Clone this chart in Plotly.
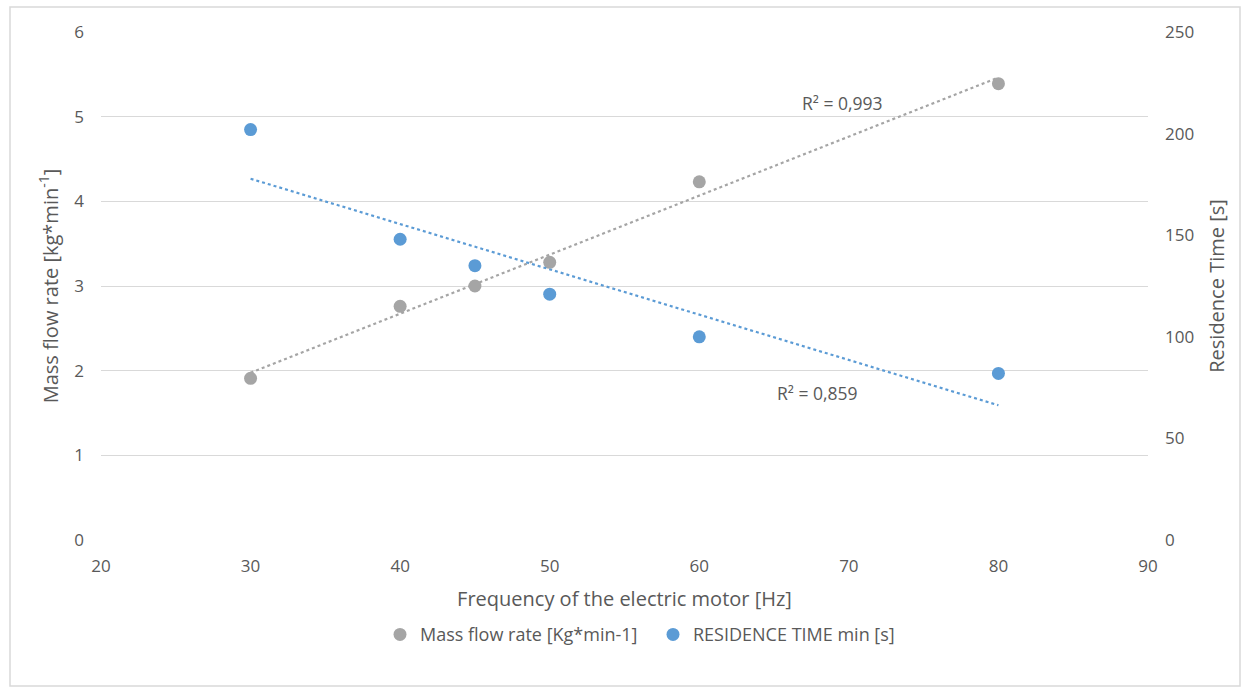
import numpy as np
import plotly.graph_objects as go

freq = [30, 40, 45, 50, 60, 80]
mass_flow = [1.91, 2.76, 3.00, 3.28, 4.23, 5.39]
residence = [202, 148, 135, 121, 100, 82]
r2_mass = "R² = 0,993"
r2_res = "R² = 0,859"

GRAY = "#A5A5A5"
BLUE = "#5B9BD5"
TXT = "#595959"
FONT = "Open Sans"

x = np.array(freq, dtype=float)
xs = np.array([min(freq), max(freq)], dtype=float)
pm = np.polyfit(x, np.array(mass_flow), 1)
pr = np.polyfit(x, np.array(residence, dtype=float), 1)

fig = go.Figure()
fig.add_trace(go.Scatter(x=xs, y=np.polyval(pm, xs), mode="lines",
                         line=dict(color=GRAY, width=2.2, dash="dot"),
                         showlegend=False, hoverinfo="skip"))
fig.add_trace(go.Scatter(x=xs, y=np.polyval(pr, xs), mode="lines", yaxis="y2",
                         line=dict(color=BLUE, width=2.2, dash="dot"),
                         showlegend=False, hoverinfo="skip"))
fig.add_trace(go.Scatter(x=freq, y=mass_flow, mode="markers", name="Mass flow rate [Kg*min-1]",
                         marker=dict(color=GRAY, size=13)))
fig.add_trace(go.Scatter(x=freq, y=residence, mode="markers", yaxis="y2",
                         name="RESIDENCE TIME min [s]",
                         marker=dict(color=BLUE, size=13)))

fig.add_annotation(x=69.6, y=5.16, text=r2_mass, showarrow=False,
                   font=dict(family=FONT, size=17.5, color=TXT))
fig.add_annotation(x=67.9, y=1.74, text=r2_res, showarrow=False,
                   font=dict(family=FONT, size=17.5, color=TXT))

W, H = 1243, 688
ml, mr, mt, mb = 101, 95, 32, 148
pw, ph = W - ml - mr, H - mt - mb
# outer chart border
fig.add_shape(type="rect", xref="paper", yref="paper",
              x0=(10 - ml) / pw, x1=(1240 - ml) / pw,
              y0=(H - 686 - mb) / ph, y1=(H - 7 - mb) / ph,
              line=dict(color="#D9D9D9", width=1.5), fillcolor="rgba(0,0,0,0)", layer="below")

fig.update_layout(
    width=W, height=H,
    margin=dict(l=ml, r=mr, t=mt, b=mb),
    paper_bgcolor="white", plot_bgcolor="white",
    font=dict(family=FONT, size=17, color=TXT),
    xaxis=dict(range=[20, 90], dtick=10, tick0=20, showgrid=False, zeroline=False,
               showline=False, ticks="", ticklabelstandoff=14,
               tickfont=dict(size=17, color=TXT),
               title=dict(text="Frequency of the electric motor [Hz]", standoff=15,
                          font=dict(size=20, color=TXT))),
    yaxis=dict(range=[0, 6], dtick=1, showgrid=True, gridcolor="#D9D9D9", gridwidth=1.3,
               zeroline=False, showline=False, ticks="", ticklabelstandoff=16,
               tickfont=dict(size=17, color=TXT),
               title=dict(text="Mass flow rate [kg*min<sup>-1</sup>]", standoff=10,
                          font=dict(size=20, color=TXT))),
    yaxis2=dict(range=[0, 250], dtick=50, overlaying="y", side="right", showgrid=False,
                zeroline=False, showline=False, ticks="", ticklabelstandoff=16,
                tickfont=dict(size=17, color=TXT),
                title=dict(text="Residence Time [s]", standoff=16,
                           font=dict(size=20, color=TXT))),
    legend=dict(orientation="h", x=(380 - ml) / pw, xanchor="left", y=-0.15, yanchor="top",
                font=dict(size=18, color=TXT), itemwidth=30, entrywidth=228,
                traceorder="normal"),
    showlegend=True,
)

fig.write_html("out.html", config={"displayModeBar": False},
               post_script="document.body.style.margin='0px';")
